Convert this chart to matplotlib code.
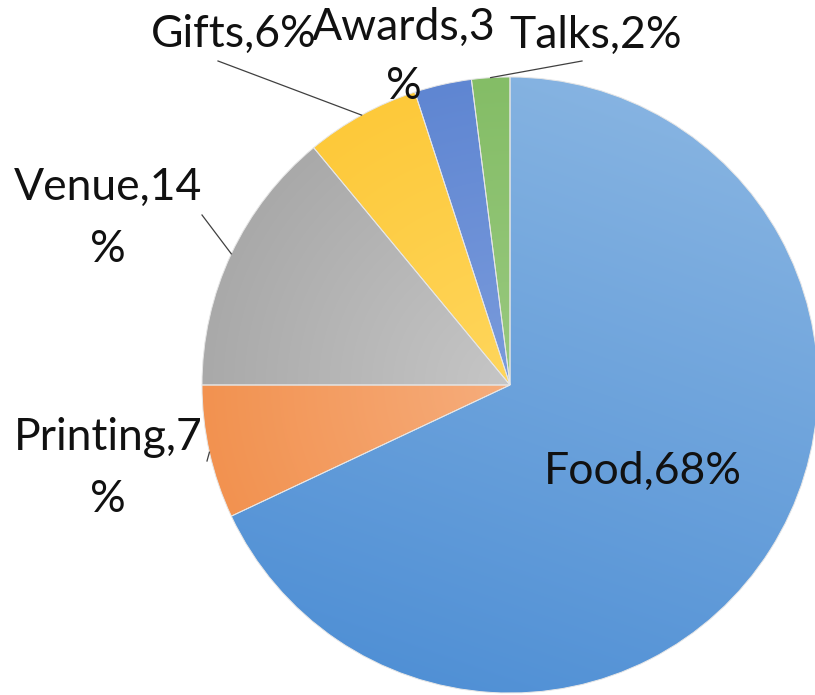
import numpy as np
import matplotlib
matplotlib.use("Agg")
import matplotlib.pyplot as plt
from matplotlib.colors import to_rgb

# data
categories = ["Food", "Printing", "Venue", "Gifts", "Awards", "Talks"]
shares = [68, 7, 14, 6, 3, 2]
wrapped = {"Printing", "Venue", "Awards"}   # Excel wraps the "%" to a second line

# colours (inner/light, outer/dark) per slice
light = ["#8db8e3", "#f6ad7c", "#c6c6c6", "#ffd65c", "#7a9bdc", "#99c97f"]
dark = ["#4a8cd4", "#f29250", "#a9a9a9", "#fdc93a", "#5f86d2", "#84bd66"]
grad_dir = [(0.35, 1.0), None, None, None, None, None]  # None -> darker toward rim

W, H = 815, 695
CX, CY, R = 510, 385, 308


def fy(y):
    return H - y


fig = plt.figure(figsize=(W / 100, H / 100), dpi=100)
ax = fig.add_axes([0, 0, 1, 1])

wedges, _ = ax.pie(shares, startangle=90, counterclock=False,
                   center=(CX, fy(CY)), radius=R,
                   colors=light,
                   wedgeprops=dict(linewidth=0.7, edgecolor="#e6e6e6"))


def shade(w, c_light, c_dark, d):
    bb = w.get_path().get_extents(w.get_transform() - ax.transData)
    n = 300
    xs = np.linspace(bb.x0, bb.x1, n)
    ys = np.linspace(bb.y0, bb.y1, n)
    X, Y = np.meshgrid(xs, ys)
    if d is None:
        t = np.hypot(X - CX, Y - fy(CY)) / R
    else:
        t = X * d[0] + Y * d[1]
        t = (t.max() - t) / (t.max() - t.min())
    t = np.clip(t, 0, 1)[..., None]
    img = np.array(to_rgb(c_light)) * (1 - t) + np.array(to_rgb(c_dark)) * t
    im = ax.imshow(img, extent=(bb.x0, bb.x1, bb.y0, bb.y1), origin="lower",
                   zorder=1, interpolation="bilinear")
    im.set_clip_path(w)
    w.set_facecolor("none")
    w.set_zorder(2)


for w, cl, cd, d in zip(wedges, light, dark, grad_dir):
    shade(w, cl, cd, d)

# label placement: centre x and baseline of the last line, pixels from top-left
label_pos = {
    "Food": (643, 484),
    "Printing": (108, 512),
    "Venue": (108, 262),
    "Gifts": (234, 47),
    "Awards": (404, 99),
    "Talks": (596, 48),
}
leader_end = {
    "Printing": (207, 461),
    "Venue": (202, 215),
    "Gifts": (218, 61),
    "Talks": (582, 61),
}

fnt = ["Lato", "DejaVu Sans"]
for name, val, w in zip(categories, shares, wedges):
    txt = f"{name},{val}" + ("\n%" if name in wrapped else "%")
    x, y = label_pos[name]
    ls = 1.55 if name == "Awards" else 1.65
    ax.text(x, fy(y), txt, ha="center", va="baseline", multialignment="center",
            fontsize=32, family=fnt, color="#111111", linespacing=ls, zorder=5)
    if name in leader_end:
        mid = np.deg2rad((w.theta1 + w.theta2) / 2)
        rx, ry = CX + R * np.cos(mid), fy(CY) + R * np.sin(mid)
        ex, ey = leader_end[name]
        ax.plot([ex, rx], [fy(ey), ry], color="#404040", lw=0.9, zorder=4)

ax.set_xlim(0, W)
ax.set_ylim(0, H)
ax.set_aspect("equal")
ax.axis("off")

fig.savefig("out.png", dpi=100, facecolor="white")
